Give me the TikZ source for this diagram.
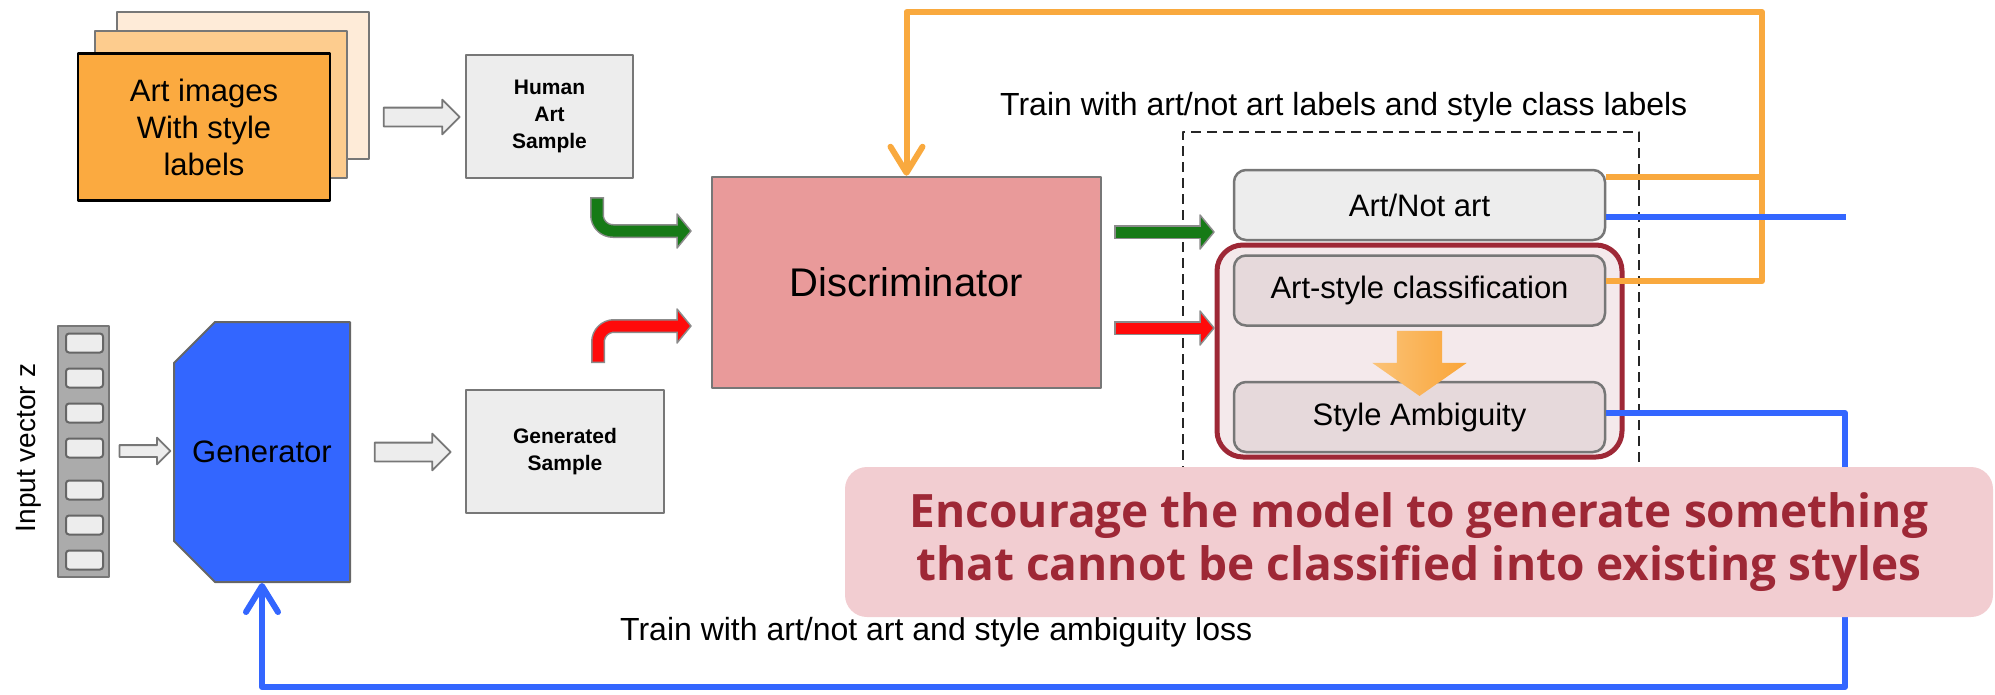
\documentclass[tikz,border=0pt]{standalone}
\usepackage{fontspec}
\setmainfont{Liberation Sans}
\newfontfamily\notefont{Open Sans}
\usetikzlibrary{arrows.meta,shapes.arrows,shapes.misc,positioning,calc}

\definecolor{genblue}{HTML}{3366FF}
\definecolor{looporange}{HTML}{F9A93E}
\definecolor{realgreen}{HTML}{167A16}
\definecolor{fakered}{HTML}{FF0A0A}
\definecolor{discpink}{HTML}{E99A9A}
\definecolor{boxgray}{HTML}{EDEDED}
\definecolor{edgegray}{HTML}{777777}
\definecolor{wine}{HTML}{9E2836}
\definecolor{notepink}{HTML}{F2CDD1}
\definecolor{hlpink}{HTML}{F4E9EB}
\definecolor{clsgray}{HTML}{E6D9DB}
\definecolor{peachA}{HTML}{FBAA40}
\definecolor{peachB}{HTML}{FDCC8E}
\definecolor{peachC}{HTML}{FEEBD8}

\begin{document}
\begin{tikzpicture}[x=1pt, y=-1pt, line join=round,
    pile/.style = {draw=edgegray, line width=2pt, minimum width=252pt,
                   minimum height=147pt, inner sep=0pt},
    samplebox/.style = {draw=edgegray, line width=2pt, fill=boxgray, align=center,
                        font=\fontsize{21}{27}\selectfont\bfseries, inner sep=0pt},
    hollow/.style = {single arrow, draw=edgegray, fill=boxgray, line width=1.8pt,
                     inner xsep=0pt, inner ysep=8.5pt, single arrow head extend=8pt},
    cell/.style = {draw=black!60, line width=2pt, fill=boxgray, rounded corners=3pt,
                   minimum width=37pt, minimum height=19pt, inner sep=0pt},
    outbox/.style = {draw=edgegray, line width=2.5pt, rounded corners=12pt,
                     minimum width=371pt, minimum height=70pt,
                     font=\fontsize{31}{37}\selectfont},
    bentedge/.style = {line width=14pt, draw=edgegray!85, rounded corners=16pt},
    bentfill/.style = {line width=11pt, draw=#1, rounded corners=16pt},
    benthead/.style = {fill=#1, draw=edgegray!85, line width=1.5pt},
    feed/.style = {line width=6pt, draw=#1},
    barb/.style = {-{Straight Barb[length=26pt,width=32pt,round]}},
    trainlabel/.style = {font=\fontsize{32}{38}\selectfont, inner sep=0pt, anchor=west}]
\useasboundingbox (0,0) rectangle (1995,694);

% stack of art images
\node[pile, fill=peachC] (art3) at (243,85) {};
\node[pile, fill=peachB] (art2) at (220.5,104) {};
\node[pile, fill=peachA, draw=black, line width=2.5pt, align=center,
      font=\fontsize{31}{37}\selectfont] (art1) at (204,127) {Art images\\With style\\labels};
\node[hollow, minimum height=76pt] (a1) at (417,117) {};
\node[samplebox, minimum width=167pt, minimum height=123pt] (hum) at (549.5,116.5) {Human\\Art\\Sample};

% noise vector and generator
\node[rotate=90, font=\fontsize{28}{34}\selectfont] (zlab) at (29,448) {Input vector z};
\node[draw=edgegray, fill=black!33, line width=2pt, minimum width=51pt,
      minimum height=251pt, inner sep=0pt] (zvec) at (83.5,451.5) {};
\node[cell] (z1) at (84.5,343) {};
\node[cell] (z2) at (84.5,378) {};
\node[cell] (z3) at (84.5,413) {};
\node[cell] (z4) at (84.5,448) {};
\node[cell] (z5) at (84.5,490) {};
\node[cell] (z6) at (84.5,525) {};
\node[cell] (z7) at (84.5,560) {};
\node[hollow, minimum height=51pt, inner ysep=5pt, single arrow head extend=7.5pt] (a2) at (142,451) {};
\node[chamfered rectangle, chamfered rectangle corners={north west,south west},
      chamfered rectangle xsep=29pt, chamfered rectangle ysep=30pt,
      fill=genblue, draw=black!60, line width=2pt, minimum width=176pt,
      minimum height=260pt, inner sep=0pt, font=\fontsize{31}{37}\selectfont] (gen) at (262,452) {Generator};
\node[hollow, minimum height=76pt, single arrow head extend=9pt] (a3) at (408,452) {};
\node[samplebox, minimum width=198pt, minimum height=123pt] (gsam) at (565,451.5) {Generated\\Sample};

% discriminator
\node[draw=edgegray, line width=2.5pt, fill=discpink, minimum width=389pt,
      minimum height=211pt, font=\fontsize{40}{48}\selectfont] (disc) at (906.5,282.5) {Discriminator};

% samples going in
\coordinate (gt) at (597,197);
\coordinate (gh) at (691,231);
\coordinate (rt) at (598,363);
\coordinate (rh) at (691,326);
\draw[bentedge] (gt) |- ([xshift=-12pt]gh);
\filldraw[benthead=realgreen] (gh) -- ++(-14,-17) -- ++(0,34) -- cycle;
\draw[bentfill=realgreen] ([yshift=-1.5pt]gt) |- ([xshift=-11pt]gh);
\draw[bentedge] (rt) |- ([xshift=-12pt]rh);
\filldraw[benthead=fakered] (rh) -- ++(-14,-17) -- ++(0,34) -- cycle;
\draw[bentfill=fakered] ([yshift=1.5pt]rt) |- ([xshift=-11pt]rh);

% heads of the discriminator
\node[draw=black!85, dash pattern=on 10pt off 6pt, line width=2.5pt,
      minimum width=456pt, minimum height=370pt] (dbox) at (1411,317) {};
\node[trainlabel] (lab1) at (1000,107) {Train with art/not art labels and style class labels};
\node[draw=wine, line width=5pt, fill=hlpink, rounded corners=26pt,
      minimum width=405pt, minimum height=212pt] (hl) at (1419.5,351) {};
\node[outbox, fill=boxgray] (ana) at (1419.5,205) {Art/Not art};
\node[outbox, fill=clsgray, below=13pt of ana] (asc) {Art-style classification};
\node[outbox, fill=clsgray, below=54pt of asc] (sam) {Style Ambiguity};
\node[single arrow, rotate=-90, minimum height=65pt, inner xsep=0pt, inner ysep=22.5pt,
      single arrow head extend=24.5pt, single arrow tip angle=110,
      left color=looporange!70!white, right color=looporange!90!orange] (drop) at (1419.5,355.5) {};

% outputs of the discriminator
\coordinate (go) at (1114,232);
\coordinate (gi) at (1214,232);
\coordinate (ro) at (1114,328);
\coordinate (ri) at (1214,328);
\draw[bentedge] (go) -- ([xshift=-12pt]gi);
\filldraw[benthead=realgreen] (gi) -- ++(-14,-17) -- ++(0,34) -- cycle;
\draw[bentfill=realgreen] ([xshift=1.5pt]go) -- ([xshift=-11pt]gi);
\draw[bentedge] (ro) -- ([xshift=-12pt]ri);
\filldraw[benthead=fakered] (ri) -- ++(-14,-17) -- ++(0,34) -- cycle;
\draw[bentfill=fakered] ([xshift=1.5pt]ro) -- ([xshift=-11pt]ri);

% training signal back to the discriminator
\coordinate (otop) at (1762,12);
\draw[feed=looporange] ($(ana.north east)+(0,8)$) -- ($(ana.north east)+(157,8)$);
\draw[feed=looporange, barb] ($(asc.north east)+(0,27)$) -| (otop) -| (disc.north);

% training signal back to the generator
\coordinate (bcorner) at (1845,687);
\draw[feed=genblue] ($(ana.east)+(0,12)$) -- ($(ana.east)+(240,12)$);
\draw[feed=genblue, barb] ($(sam.east)+(0,-4)$) -| (bcorner) -| (gen.south);
\node[trainlabel] (lab2) at (620,632) {Train with art/not art and style ambiguity loss};

% remark
\node[fill=notepink, rounded corners=22pt, minimum width=1148pt, minimum height=150pt,
      text=wine, align=center, font=\notefont\bfseries\fontsize{46}{53}\selectfont] (note) at (1419,542)
      {Encourage the model to generate something\\that cannot be classified into existing styles};
\end{tikzpicture}
\end{document}
